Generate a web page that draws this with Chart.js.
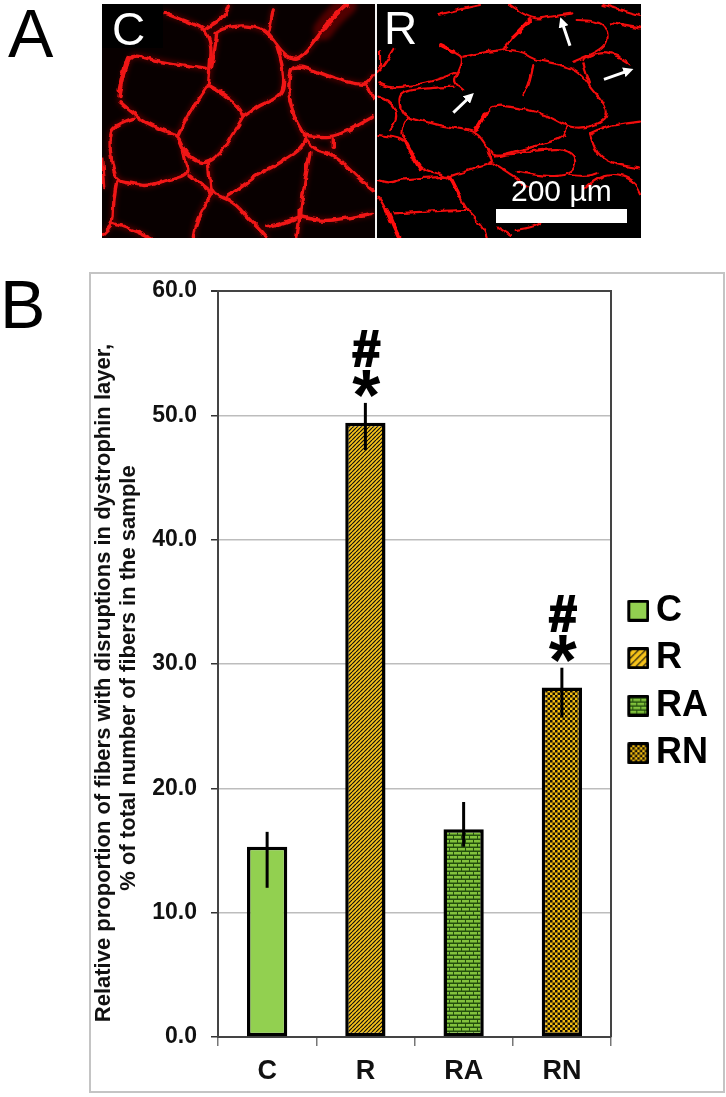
<!DOCTYPE html>
<html>
<head>
<meta charset="utf-8">
<title>Dystrophin layer disruptions</title>
<script src="https://cdn.jsdelivr.net/npm/chart.js@4"></script>
<style>
  html, body { margin: 0; padding: 0; background: #fff; overflow: hidden; }
  body { position: relative; width: 726px; height: 1097px; font-family: "Liberation Sans", Arial, sans-serif; }
  #frame { position: absolute; left: 89px; top: 272px; width: 632px; height: 817px; border: 2px solid #c4c4c4; }
  #chart { position: absolute; left: 0; top: 0; }
  #micro { position: absolute; left: 0; top: 0; }
  .panel-letter { position: absolute; color: #000; font-size: 68px; line-height: 68px; }
</style>
</head>
<body>
<div id="frame"></div>
<canvas id="chart" width="726" height="1097"></canvas>
<svg id="micro" width="726" height="245" xmlns="http://www.w3.org/2000/svg"></svg>
<div class="panel-letter" style="left:8px;top:-1px">A</div>
<div class="panel-letter" style="left:0px;top:270px">B</div>

<script>
const categories = ["C", "R", "RA", "RN"];
const values = [15.3, 49.4, 16.7, 28.1];
const errTop = [16.5, 51.0, 18.9, 29.7];
const errBottom = [12.0, 47.2, 15.3, 25.7];
const significant = [false, true, false, true];
const yTicks = [0, 10, 20, 30, 40, 50, 60];
const yTitleLines = [
  "Relative proportion of fibers with disruptions in dystrophin layer,",
  "% of total number of fibers in the sample"
];

const netC = [
  [[740,15],[700,50],[670,90],[640,130],[610,165],[585,178],[555,165],[530,135],[505,100],[480,85],[430,75],[370,85],[345,100]],
  [[520,30],[510,80],[505,100]],
  [[195,40],[250,60],[300,80],[320,95],[335,140],[330,200],[325,255]],
  [[385,15],[375,50],[320,85]],
  [[60,290],[65,250],[85,175],[110,165],[180,185],[250,195],[320,205]],
  [[350,100],[345,150],[335,200]],
  [[530,135],[550,200],[552,270],[530,295],[480,315],[430,350]],
  [[325,255],[370,280],[420,325],[430,350]],
  [[325,255],[290,305],[255,360],[235,405]],
  [[60,305],[110,350],[170,385],[235,405],[250,450],[285,485],[325,490],[370,450],[400,400],[430,350]],
  [[100,355],[40,375],[28,420],[35,490],[50,545],[100,550],[140,560],[200,540],[270,525],[255,480],[250,450]],
  [[325,490],[330,540],[335,580],[400,605],[440,650],[480,690],[500,714]],
  [[270,525],[330,575]],
  [[335,580],[300,640],[285,680],[280,714]],
  [[50,545],[40,600],[40,670],[10,700]],
  [[40,670],[100,690],[150,714]],
  [[570,300],[580,350],[610,400],[620,420],[600,450],[530,495],[470,525],[420,565],[380,590]],
  [[570,300],[565,280],[570,210],[590,198],[640,210],[700,235],[760,250],[800,255],[820,225]],
  [[800,255],[820,290]],
  [[610,405],[680,415],[740,395],[820,350]],
  [[620,420],[640,450],[680,455],[720,480],[770,530],[820,570]],
  [[700,415],[700,445]],
  [[630,460],[615,540],[600,650],[590,714]],
  [[600,650],[660,665],[740,655],[820,640]],
  [[600,650],[550,670],[500,680]],
  [[8,480],[14,560]]
];
const thickC = [
  [[740,15],[700,50],[670,90]],
  [[85,175],[70,220],[60,270]],
  [[600,630],[600,650]]
];
const netR = [
  [[205,45],[260,30],[330,15]],
  [[420,15],[480,60],[540,50],[610,40]],
  [[480,60],[430,110],[405,150],[350,155],[280,170]],
  [[620,60],[690,60],[715,100],[710,130],[680,155],[610,185]],
  [[725,70],[810,85]],
  [[700,15],[810,45]],
  [[210,135],[260,160],[280,175],[265,215],[250,245],[280,270]],
  [[265,215],[200,240],[140,255],[60,265],[25,250]],
  [[250,260],[160,265],[100,275],[85,295],[95,340],[115,350]],
  [[405,150],[450,150],[490,180],[560,190],[630,215],[660,260],[700,305],[715,345],[690,370],[640,385],[590,380],[540,350],[480,330],[420,320],[375,315],[345,340],[320,390]],
  [[490,195],[480,250],[460,285]],
  [[115,350],[180,370],[260,385],[320,395],[350,440],[375,470],[450,450],[530,430],[575,415],[585,395],[590,380]],
  [[115,350],[90,390],[110,430],[135,480],[160,510],[240,530],[270,590],[290,630],[340,680],[350,710]],
  [[350,440],[360,475],[370,490],[300,510],[240,530]],
  [[240,530],[100,535],[60,550],[22,540]],
  [[375,470],[530,445],[600,450],[625,490],[600,525],[530,530],[440,515]],
  [[370,490],[420,520],[470,560]],
  [[25,405],[80,410],[110,430]],
  [[25,590],[50,630],[70,680],[85,712]],
  [[70,640],[160,635],[270,630],[290,630]],
  [[660,400],[700,380],[810,365]],
  [[660,400],[670,450],[720,490],[810,505]],
  [[640,570],[670,540],[730,520],[790,540],[810,580]],
  [[600,525],[650,530],[680,520]],
  [[70,150],[40,200],[22,215]],
  [[30,150],[30,200]],
  [[640,180],[680,155],[740,165],[780,190]],
  [[640,190],[660,250]],
  [[25,290],[60,300],[85,350],[60,390]],
  [[440,690],[500,680],[520,660]],
  [[380,680],[420,705]]
];
const thickR = [
  [[480,60],[450,90],[430,110]],
  [[345,340],[330,370],[315,390]],
  [[110,430],[135,480],[150,505]],
  [[270,590],[240,530]],
  [[50,630],[70,680],[85,712]],
  [[210,135],[250,155]]
];
const arrowsR = [
  [[600,137],[578,72]],
  [[702,238],[770,214]],
  [[250,338],[296,294]]
];

function smoothPath(pts) {
  let d = `M${pts[0][0]} ${pts[0][1]}`;
  for (let i = 1; i < pts.length - 1; i++) {
    const mx = (pts[i][0] + pts[i + 1][0]) / 2, my = (pts[i][1] + pts[i + 1][1]) / 2;
    d += ` Q${pts[i][0]} ${pts[i][1]} ${mx} ${my}`;
  }
  const last = pts[pts.length - 1];
  return d + ` L${last[0]} ${last[1]}`;
}

function strokes(net, color, width) {
  return net.map(p => `<path d="${smoothPath(p)}" fill="none" stroke="${color}" stroke-width="${width}" stroke-linecap="round" stroke-linejoin="round"/>`).join("");
}

const arrowMarkup = arrowsR.map(a => `<line x1="${a[0][0]}" y1="${a[0][1]}" x2="${a[1][0]}" y2="${a[1][1]}" stroke="#fff" stroke-width="9" marker-end="url(#head)"/>`).join("");

document.getElementById("micro").innerHTML = `
  <defs>
    <filter id="glow" x="-10%" y="-10%" width="120%" height="120%"><feGaussianBlur stdDeviation="8"/></filter>
    <filter id="rough" x="-5%" y="-5%" width="110%" height="110%">
      <feTurbulence type="fractalNoise" baseFrequency="0.035" numOctaves="2" seed="4" result="n"/>
      <feDisplacementMap in="SourceGraphic" in2="n" scale="16" xChannelSelector="R" yChannelSelector="G"/>
      <feGaussianBlur stdDeviation="1.6"/>
    </filter>
    <clipPath id="clipC"><rect x="6" y="12" width="819" height="702"/></clipPath>
    <clipPath id="clipR"><rect x="21" y="12" width="792" height="702"/></clipPath>
    <marker id="head" markerWidth="3.4" markerHeight="3.4" refX="1" refY="1.7" orient="auto"><path d="M0 0 L3.4 1.7 L0 3.4 Z" fill="#fff"/></marker>
  </defs>
  <rect x="102" y="4" width="273" height="234" fill="#080000"/>
  <rect x="377" y="4" width="264" height="234" fill="#000"/>
  <rect x="375" y="4" width="2" height="234" fill="#f4f4f4"/>
  <g transform="translate(100,0) scale(0.3333)" clip-path="url(#clipC)">
    <g filter="url(#glow)" opacity="0.4">${strokes(netC, "#b00000", 16)}${strokes(thickC.slice(0, 1), "#c00000", 60)}</g>
    <g filter="url(#rough)">${strokes(netC, "#f01818", 10)}${strokes(thickC, "#f01818", 15)}</g>
  </g>
  <g transform="translate(370,0) scale(0.3333)" clip-path="url(#clipR)">
    <g filter="url(#rough)">${strokes(netR, "#f00a0a", 6.5)}${strokes(thickR, "#ff0a0a", 12)}</g>
    ${arrowMarkup}
  </g>
  <rect x="102" y="4" width="61" height="44" fill="#000"/>
  <text x="112" y="45" font-family="Liberation Sans" font-size="46" fill="#fff">C</text>
  <text x="384" y="44" font-family="Liberation Sans" font-size="46" fill="#fff">R</text>
  <text x="511" y="201" font-family="Liberation Sans" font-size="30" fill="#fff">200 µm</text>
  <rect x="496" y="209" width="131" height="14" fill="#fff"/>`;

// ---- fill patterns ----
function makeTile(w, h, paint) {
  const c = document.createElement("canvas");
  c.width = w; c.height = h;
  paint(c.getContext("2d"), w, h);
  return c;
}

function hatchTile(g, w, h) {
  g.fillStyle = "#f8c41a"; g.fillRect(0, 0, w, h);
  g.strokeStyle = "#111"; g.lineWidth = 1.2;
  for (let i = -w; i <= w * 2; i += w) {
    g.beginPath(); g.moveTo(i, h); g.lineTo(i + w, 0); g.stroke();
  }
}
function brickTile(g) {
  g.fillStyle = "#82c23c"; g.fillRect(0, 0, 8, 8);
  g.fillStyle = "#244f0e";
  g.fillRect(0, 2.5, 8, 1.5); g.fillRect(0, 6.5, 8, 1.5);
  g.fillRect(1, 0, 1, 3); g.fillRect(5, 4, 1, 3);
}
function checkTile(g) {
  g.fillStyle = "#f2bd10"; g.fillRect(0, 0, 5, 5);
  g.fillStyle = "#161006";
  g.fillRect(0, 0, 2.5, 2.5); g.fillRect(2.5, 2.5, 2.5, 2.5);
}

const probe = document.createElement("canvas").getContext("2d");
const tiles = [null, makeTile(4, 4, hatchTile), makeTile(8, 8, brickTile), makeTile(5, 5, checkTile)];
const fills = tiles.map(t => t ? probe.createPattern(t, "repeat") : "#92d050");

// legend swatches are small images, wider than the box with the square pushed right
const legendTiles = [null, makeTile(7, 7, hatchTile), makeTile(8, 8, brickTile), makeTile(5, 5, checkTile)];
const swatches = legendTiles.map(t => makeTile(38, 22, g => {
  g.translate(16, 0);
  g.fillStyle = t ? g.createPattern(t, "repeat") : "#92d050";
  g.fillRect(1, 1, 20, 20);
  g.strokeStyle = "#000"; g.lineWidth = 3; g.lineJoin = "round";
  g.strokeRect(1.5, 1.5, 19, 19);
}));

// error bars, significance marks, right border and the y title
const overlay = {
  id: "overlay",
  afterLayout(chart) {
    // tick labels are clipped to the scale box, let them run to the canvas edge
    chart.scales.x.bottom = chart.height;
  },
  afterDatasetsDraw(chart) {
    const { ctx, chartArea, scales: { x, y } } = chart;
    ctx.save();
    ctx.strokeStyle = "#444"; ctx.lineWidth = 2;
    ctx.beginPath(); ctx.moveTo(chartArea.right, chartArea.top - 1); ctx.lineTo(chartArea.right, chartArea.bottom); ctx.stroke();

    categories.forEach((c, i) => {
      const px = x.getPixelForValue(i);
      ctx.strokeStyle = "#000"; ctx.lineWidth = 3;
      ctx.beginPath(); ctx.moveTo(px, y.getPixelForValue(errTop[i])); ctx.lineTo(px, y.getPixelForValue(errBottom[i])); ctx.stroke();
      if (!significant[i]) return;
      ctx.fillStyle = "#000"; ctx.textAlign = "center"; ctx.textBaseline = "alphabetic";
      ctx.font = "bold 72px 'Liberation Sans'";
      const star = ctx.measureText("*");
      const starY = y.getPixelForValue(errTop[i]) - 6 - star.actualBoundingBoxDescent;
      ctx.fillText("*", px + 1, starY);
      const starTop = starY - star.actualBoundingBoxAscent;
      ctx.font = "bold 50px 'Liberation Sans'";
      const hash = ctx.measureText("#");
      const hashY = starTop - 4 - hash.actualBoundingBoxDescent;
      ctx.lineWidth = 2;
      ctx.fillText("#", px + 1, hashY);
      ctx.strokeText("#", px + 1, hashY);
    });

    ctx.fillStyle = "#111"; ctx.textAlign = "center"; ctx.textBaseline = "alphabetic";
    ctx.font = "bold 22px 'Liberation Sans'";
    yTitleLines.forEach((line, i) => {
      ctx.save();
      ctx.translate(110 + i * 25, 683 - i * 5);
      ctx.rotate(-Math.PI / 2);
      ctx.fillText(line, 0, 0);
      ctx.restore();
    });
    ctx.restore();
  }
};

new Chart(document.getElementById("chart"), {
  type: "bar",
  plugins: [overlay],
  data: {
    labels: categories,
    datasets: [{
      data: values,
      backgroundColor: fills,
      borderColor: "#000",
      borderWidth: 3.5,
      borderSkipped: false,
      barPercentage: 0.41,
      categoryPercentage: 1
    }]
  },
  options: {
    responsive: false,
    animation: false,
    layout: { padding: { top: 291, bottom: 24, left: 0, right: 8 } },
    plugins: {
      tooltip: { enabled: false },
      legend: {
        position: "right",
        labels: {
          usePointStyle: true,
          pointStyleWidth: 15.5,
          boxHeight: 20,
          padding: 11.5,
          color: "#000",
          font: { family: "Liberation Sans", size: 36, weight: "bold" },
          generateLabels: () => categories.map((c, i) => ({
            text: c, pointStyle: swatches[i], fontColor: "#000", hidden: false, index: i, lineWidth: 0
          }))
        }
      }
    },
    scales: {
      x: {
        afterFit(scale) { scale.height = 36; },
        border: { color: "#444", width: 2 },
        grid: { offset: true, drawOnChartArea: false, color: "#777", tickColor: "#777", tickLength: 9, lineWidth: 1.5 },
        ticks: { color: "#111", padding: 9, maxRotation: 0, font: { family: "Liberation Sans", size: 27, weight: "bold" } }
      },
      y: {
        min: 0,
        max: 60,
        afterFit(scale) { scale.width = 218; },
        afterBuildTicks(scale) { scale.ticks = yTicks.map(v => ({ value: v })); },
        border: { color: "#444", width: 2 },
        grid: {
          color: ctx => ctx.tick && ctx.tick.value === 60 ? "#444" : "#bdbdbd",
          lineWidth: ctx => ctx.tick && ctx.tick.value === 60 ? 2 : 1.5,
          tickColor: "#333",
          tickLength: 7
        },
        ticks: {
          color: "#111",
          padding: 14,
          font: { family: "Liberation Sans", size: 23, weight: "bold" },
          callback: v => v.toFixed(1)
        }
      }
    }
  }
});
</script>
</body>
</html>
